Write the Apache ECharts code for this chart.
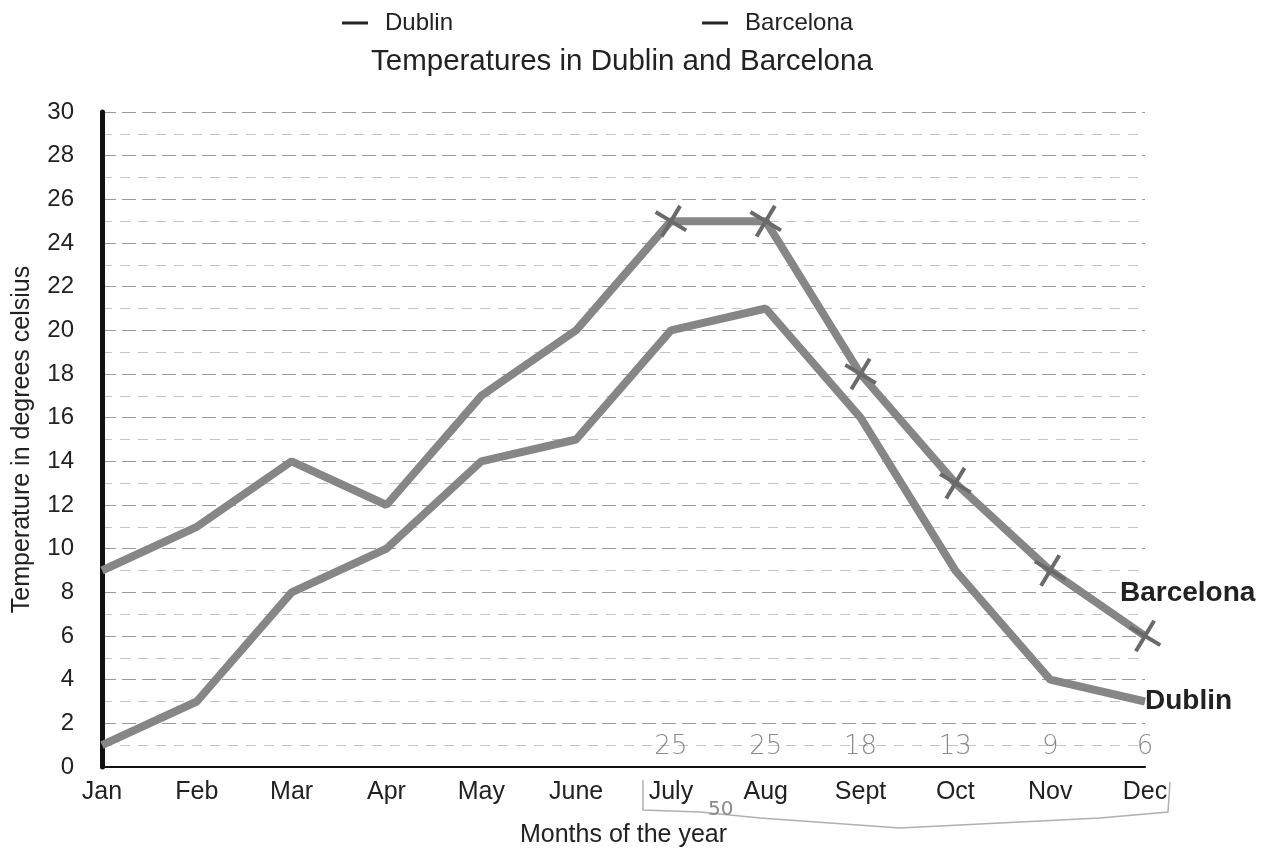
<!DOCTYPE html>
<html>
<head>
<meta charset="utf-8">
<script src="https://cdn.jsdelivr.net/npm/echarts@6/dist/echarts.min.js"></script>
<style>
  html, body { margin: 0; padding: 0; background: #fff; }
  #chart { width: 1278px; height: 853px; }
</style>
</head>
<body>
<div id="chart"></div>
<script>
// data
var months = ["Jan", "Feb", "Mar", "Apr", "May", "June", "July", "Aug", "Sept", "Oct", "Nov", "Dec"];
var dublin = [1, 3, 8, 10, 14, 15, 20, 21, 16, 9, 4, 3];
var barcelona = [9, 11, 14, 12, 17, 20, 25, 25, 18, 13, 9, 6];
var yTicks = [0, 30, 2]; // min, max, step
// handwritten notes under the axis (Barcelona values, July..Dec)
var noteFrom = 6;
var noteY = 0.9;

var FONT = "Liberation Sans";
var LINE = "#868686";
var crossPath = "path://M0,1L1,0L5,4L9,0L10,1L6,5L10,9L9,10L5,6L1,10L0,9L4,5Z";

var chart = echarts.init(document.getElementById("chart"));

// crosses only on the hand-marked points
var barData = barcelona.map(function (v, i) {
  if (i >= noteFrom) {
    return { value: v, symbol: crossPath, symbolSize: 28, symbolRotate: 14,
             itemStyle: { color: "#6a6a6a" } };
  }
  return { value: v, symbol: "none" };
});

var noteData = barcelona.map(function (v, i) {
  return i >= noteFrom ? { value: noteY, note: v } : null;
});

var option = {
  animation: false,
  textStyle: { fontFamily: FONT },
  title: {
    text: "Temperatures in Dublin and Barcelona",
    left: 366,
    top: 42,
    textStyle: { fontFamily: FONT, fontSize: 29.5, fontWeight: "normal", color: "#222" }
  },
  legend: {
    data: ["Dublin", "Barcelona"],
    left: 337,
    top: 6,
    icon: "rect",
    itemWidth: 26,
    itemHeight: 3,
    itemGap: 249,
    itemStyle: { color: "#222" },
    textStyle: { fontFamily: FONT, fontSize: 24, color: "#222", padding: [0, 0, 0, 12] }
  },
  grid: { left: 102, right: 133, top: 112, bottom: 84, containLabel: false },
  xAxis: {
    type: "category",
    data: months,
    boundaryGap: false,
    name: "Months of the year",
    nameLocation: "middle",
    nameGap: 56,
    nameTextStyle: { fontFamily: FONT, fontSize: 25, color: "#222" },
    axisLine: { lineStyle: { color: "#111", width: 2 } },
    axisTick: { show: false },
    axisLabel: { fontFamily: FONT, fontSize: 25, color: "#222", margin: 13, interval: 0 },
    splitLine: { show: false }
  },
  yAxis: {
    type: "value",
    min: yTicks[0],
    max: yTicks[1],
    interval: yTicks[2],
    name: "Temperature in degrees celsius",
    nameLocation: "middle",
    nameGap: 67,
    nameTextStyle: { fontFamily: FONT, fontSize: 25, color: "#222" },
    axisLine: { show: true, lineStyle: { color: "#111", width: 5 } },
    axisTick: { show: false },
    axisLabel: { fontFamily: FONT, fontSize: 24, color: "#222", margin: 28 },
    splitLine: { show: true, lineStyle: { color: "#9a9a9a", type: [14, 6], width: 1 } },
    minorTick: { show: false, splitNumber: 2 },
    minorSplitLine: { show: true, lineStyle: { color: "#c4c4c4", type: [10, 8], width: 1 } }
  },
  series: [
    {
      name: "Dublin",
      type: "line",
      data: dublin,
      symbol: "none",
      lineStyle: { color: LINE, width: 8 },
      itemStyle: { color: LINE },
      endLabel: {
        show: true,
        formatter: "Dublin",
        distance: 0,
        fontFamily: FONT, fontSize: 28, fontWeight: "bold", color: "#222"
      },
      z: 3
    },
    {
      name: "Barcelona",
      type: "line",
      data: barData,
      lineStyle: { color: LINE, width: 8 },
      itemStyle: { color: LINE },
      endLabel: {
        show: true,
        formatter: "Barcelona",
        offset: [-33, -43],
        fontFamily: FONT, fontSize: 28, fontWeight: "bold", color: "#222"
      },
      z: 4
    },
    {
      name: "notes",
      type: "scatter",
      data: noteData,
      symbolSize: 0,
      silent: true,
      label: {
        show: true,
        position: "inside",
        formatter: function (p) { return p.data.note; },
        fontFamily: "DejaVu Sans", fontSize: 26, fontWeight: 200, color: "#6e6e6e"
      },
      z: 5
    }
  ],
  graphic: [
    {
      type: "polyline",
      shape: { points: [[643, 780], [643, 810], [700, 812], [760, 818], [900, 828], [1100, 818], [1168, 812], [1170, 782]] },
      style: { stroke: "#b0b0b0", lineWidth: 1.5, fill: null }
    },
    {
      type: "text",
      left: 708, top: 800,
      style: { text: "50", fontFamily: "DejaVu Sans", fontSize: 20, fill: "#8a8a8a" }
    }
  ]
};

chart.setOption(option);
</script>
</body>
</html>
